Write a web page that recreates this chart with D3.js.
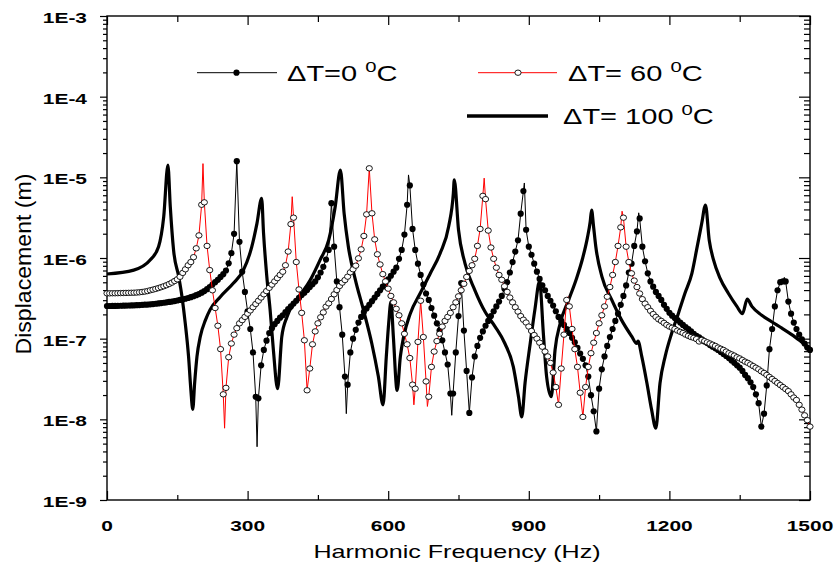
<!DOCTYPE html>
<html>
<head>
<meta charset="utf-8">
<script src="https://cdn.jsdelivr.net/npm/d3@7"></script>
<style>
  body { margin: 0; background: #fff; }
  text { font-family: "Liberation Sans", Arial, sans-serif; }
</style>
</head>
<body>
<script>
var width = 835;
var height = 565;
var plot = { left: 107, right: 810, top: 16, bottom: 500 };

// frequency grid of the sampled curves (Hz), 261 samples from 0 to 1500
var fMax = 1500;
var nPts = 261;
var freq = d3.range(nPts).map(function(i) { return i * fMax / (nPts - 1); });

// log10 of displacement (m), one value per grid frequency
var logDisp0 = [
  -6.595,-6.595,-6.594,-6.594,-6.593,-6.592,-6.591,-6.590,-6.589,-6.588,
  -6.587,-6.585,-6.583,-6.581,-6.579,-6.577,-6.574,-6.571,-6.567,-6.563,
  -6.559,-6.555,-6.550,-6.545,-6.540,-6.534,-6.527,-6.520,-6.513,-6.505,
  -6.496,-6.486,-6.474,-6.461,-6.447,-6.430,-6.410,-6.387,-6.360,-6.330,
  -6.30,-6.27,-6.235,-6.20,-6.155,-6.066,-5.94,-5.70,-4.80,-5.80,
  -6.17,-6.42,-6.66,-6.88,-7.17,-7.72,-7.74,-7.33,-7.14,-7.025,
  -6.93,-6.87,-6.82,-6.78,-6.74,-6.71,-6.67,-6.635,-6.60,-6.565,
  -6.53,-6.495,-6.46,-6.43,-6.397,-6.36,-6.325,-6.29,-6.24,-6.18,
  -6.11,-6.02,-5.90,-5.32,-5.86,-6.29,-6.61,-6.95,-7.47,-7.57,
  -7.17,-7.00,-6.89,-6.80,-6.73,-6.67,-6.625,-6.58,-6.535,-6.49,
  -6.445,-6.40,-6.355,-6.31,-6.265,-6.22,-6.17,-6.12,-6.01,-5.90,
  -5.71,-5.34,-5.10,-5.64,-5.90,-6.07,-6.21,-6.33,-6.44,-6.52,
  -6.62,-6.715,-6.81,-6.90,-7.02,-7.17,-7.32,-7.68,-7.68,-7.17,
  -6.72,-6.31,-6.90,-7.40,-7.92,-7.48,-7.22,-7.09,-6.99,-6.91,
  -6.84,-6.78,-6.72,-6.66,-6.60,-6.54,-6.47,-6.38,-6.30,-6.18,
  -6.05,-5.92,-5.78,-5.45,-5.17,-5.65,-5.86,-5.96,-6.07,-6.17,
  -6.26,-6.34,-6.40,-6.47,-6.53,-6.59,-6.66,-6.73,-6.78,-6.83,
  -6.88,-6.93,-6.99,-7.045,-7.115,-7.185,-7.25,-7.33,-7.47,-7.70,
  -7.90,-8.15,-7.62,-7.38,-7.22,-7.09,-6.98,-6.88,-6.78,-6.69,
  -6.58,-6.47,-6.34,-6.18,-6.07,-5.85,-5.67,-5.51,-5.86,-6.04,
  -6.19,-6.29,-6.355,-6.42,-6.47,-6.52,-6.58,-6.63,-6.68,-6.715,
  -6.745,-6.77,-6.80,-6.83,-6.856,-6.88,-6.91,-6.94,-6.965,-6.985,
  -7.01,-7.035,-7.055,-7.08,-7.10,-7.12,-7.14,-7.165,-7.19,-7.215,
  -7.24,-7.27,-7.30,-7.33,-7.36,-7.40,-7.45,-7.49,-7.54,-7.60,
  -7.69,-7.80,-8.09,-7.93,-7.58,-7.13,-6.88,-6.60,-6.40,-6.30,
  -6.29,-6.29,-6.54,-6.69,-6.80,-6.88,-6.95,-7.01,-7.06,-7.11,
  -7.14
];

var logDisp60 = [
  -6.438,-6.438,-6.437,-6.437,-6.436,-6.435,-6.434,-6.433,-6.432,-6.431,
  -6.430,-6.428,-6.425,-6.421,-6.416,-6.410,-6.400,-6.392,-6.383,-6.373,
  -6.362,-6.350,-6.337,-6.322,-6.305,-6.285,-6.264,-6.233,-6.185,-6.140,
  -6.09,-6.05,-5.99,-5.88,-5.72,-5.34,-5.31,-5.85,-6.15,-6.40,
  -6.62,-6.84,-7.13,-7.69,-7.61,-7.23,-7.06,-6.95,-6.87,-6.81,
  -6.77,-6.73,-6.69,-6.65,-6.61,-6.57,-6.53,-6.49,-6.45,-6.41,
  -6.37,-6.33,-6.29,-6.25,-6.21,-6.17,-6.09,-5.92,-5.58,-5.50,
  -6.05,-6.39,-6.68,-7.02,-7.64,-7.37,-7.07,-6.91,-6.81,-6.735,
  -6.674,-6.603,-6.562,-6.508,-6.45,-6.397,-6.347,-6.306,-6.273,-6.231,
  -6.178,-6.14,-6.095,-6.004,-5.893,-5.727,-5.459,-4.888,-5.446,-5.769,
  -5.954,-6.08,-6.20,-6.29,-6.38,-6.47,-6.55,-6.63,-6.71,-6.81,
  -6.94,-7.07,-7.24,-7.57,-7.62,-7.04,-6.53,-6.98,-7.53,-7.72,
  -7.35,-7.16,-7.03,-6.94,-6.85,-6.78,-6.73,-6.68,-6.61,-6.55,
  -6.475,-6.40,-6.32,-6.235,-6.16,-6.09,-6.01,-5.85,-5.64,-5.23,
  -5.27,-5.66,-5.87,-6.01,-6.12,-6.21,-6.27,-6.35,-6.42,-6.49,
  -6.55,-6.61,-6.665,-6.72,-6.765,-6.80,-6.85,-6.905,-6.955,-7.00,
  -7.05,-7.10,-7.16,-7.22,-7.30,-7.42,-7.60,-7.82,-7.37,-6.95,
  -6.52,-6.60,-6.88,-7.13,-7.35,-7.67,-7.97,-7.60,-7.35,-7.18,
  -7.05,-6.93,-6.81,-6.71,-6.60,-6.48,-6.36,-6.21,-6.05,-5.85,
  -5.62,-5.50,-5.86,-6.05,-6.19,-6.28,-6.36,-6.44,-6.51,-6.565,
  -6.61,-6.655,-6.695,-6.73,-6.76,-6.78,-6.805,-6.83,-6.85,-6.865,
  -6.88,-6.90,-6.915,-6.93,-6.95,-6.965,-6.98,-6.99,-7.005,-7.035,
  -7.015,-7.03,-7.045,-7.06,-7.075,-7.09,-7.11,-7.125,-7.14,-7.16,
  -7.18,-7.195,-7.21,-7.23,-7.245,-7.265,-7.285,-7.30,-7.32,-7.34,
  -7.36,-7.38,-7.405,-7.425,-7.45,-7.475,-7.50,-7.525,-7.55,-7.575,
  -7.60,-7.625,-7.65,-7.69,-7.73,-7.76,-7.82,-7.88,-7.95,-8.01,
  -8.09
];

// sharp resonance / anti-resonance tips that the thin lines reach between markers
var tipFreq0 = [320.2, 510.6, 643.3, 735.6, 890.5, 1134.5, 1445.2];
var tipLog0 = [-8.34, -7.93, -4.97, -7.95, -5.07, -5.44, -6.24];
var tipFreq60 = [204.8, 250.9, 395.2, 654.8, 683.6, 804.8, 983.7, 1099];
var tipLog60 = [-4.83, -8.11, -5.24, -7.82, -7.84, -5.01, -6.48, -5.42];

// dT = 100 curve (no markers)
var freq100 = [0,57,92,110,121,130,135,142,153,160,167,174,179,183,187,192,199,210,220,242,
  270,291,309,320,330,334,341,348,355,364,373,384,405,434,455,473,487,498,506,515,
  530,547,565,579,589,596,601,606,611,619,626,633,647,668,690,711,729,739,741,750,
  764,785,807,828,849,867,878,885,892,903,913,923,931,938,948,956,967,985,1002,1015,
  1025,1031,1034,1038,1043,1056,1077,1098,1120,1130,1133,1141,1152,1162,1171,1180,1191,1205,1219,1233,
  1248,1258,1269,1277,1285,1294,1308,1326,1344,1356,1366,1376,1397,1418,1440,1461,1482,1500];
var logDisp100 = [-6.198,-6.15,-6.025,-5.86,-5.49,-4.847,-5.36,-5.90,-6.23,-6.48,-6.81,-7.22,-7.64,-7.876,-7.55,-7.22,-6.975,-6.77,-6.64,-6.48,
  -6.31,-6.15,-5.86,-5.57,-5.26,-5.69,-6.23,-6.64,-7.14,-7.62,-6.975,-6.73,-6.52,-6.27,-6.02,-5.78,-5.36,-4.909,-5.45,-5.86,
  -6.27,-6.64,-7.06,-7.47,-7.82,-7.22,-6.81,-6.54,-6.975,-7.64,-7.22,-6.975,-6.69,-6.44,-6.19,-5.94,-5.61,-5.20,-5.03,-5.65,
  -6.07,-6.40,-6.67,-6.85,-7.06,-7.35,-7.72,-7.97,-7.55,-7.06,-6.64,-6.29,-6.93,-7.47,-7.72,-7.14,-6.81,-6.52,-6.25,-6.00,
  -5.75,-5.55,-5.405,-5.60,-5.86,-6.23,-6.52,-6.77,-6.975,-7.06,-7.03,-7.22,-7.55,-7.88,-8.11,-7.55,-7.22,-6.93,-6.69,-6.44,
  -6.19,-5.90,-5.57,-5.343,-5.78,-6.02,-6.25,-6.44,-6.60,-6.69,-6.51,-6.60,-6.71,-6.79,-6.87,-6.95,-7.04,-7.12];

var xTicks = [0, 300, 600, 900, 1200, 1500];
var xMinorTicks = [150, 450, 750, 1050, 1350];
var yTicks = [1e-9, 1e-8, 1e-7, 1e-6, 1e-5, 1e-4, 1e-3];
var yTickLabels = ['1E-9', '1E-8', '1E-7', '1E-6', '1E-5', '1E-4', '1E-3'];
var seriesNames = ['\u0394T=0 ', '\u0394T= 60 ', '\u0394T= 100 '];

var stretch = 1.35; // the reference text is drawn wide

var svg = d3.select('body')
  .append('svg')
  .attr('width', width)
  .attr('height', height);

var x = d3.scaleLinear().domain([0, fMax]).range([plot.left, plot.right]);
var y = d3.scaleLog().domain([1e-9, 1e-3]).range([plot.bottom, plot.top]);

function toPoints(fs, logs) {
  return fs.map(function(f, i) { return { f: f, v: Math.pow(10, logs[i]) }; });
}
var pts0 = toPoints(freq, logDisp0);
var pts60 = toPoints(freq, logDisp60);
var pts100 = toPoints(freq100, logDisp100);
var line0 = pts0.concat(toPoints(tipFreq0, tipLog0)).sort(function(a, b) { return a.f - b.f; });
var line60 = pts60.concat(toPoints(tipFreq60, tipLog60)).sort(function(a, b) { return a.f - b.f; });

// log minor ticks from the scale itself
var yMinor = y.ticks().filter(function(v) {
  var l = Math.log10(v);
  return Math.abs(l - Math.round(l)) > 1e-6;
});

function clean(g) {
  g.select('.domain').remove();
  g.selectAll('text').remove();
  g.selectAll('line').attr('stroke', '#000').attr('stroke-width', 1.2);
}

// left: outward ticks
svg.append('g').attr('transform', 'translate(' + plot.left + ',0)')
  .call(d3.axisLeft(y).tickValues(yTicks).tickSize(7)).call(clean);
svg.append('g').attr('transform', 'translate(' + plot.left + ',0)')
  .call(d3.axisLeft(y).tickValues(yMinor).tickSize(4)).call(clean);
// right: inward ticks
svg.append('g').attr('transform', 'translate(' + plot.right + ',0)')
  .call(d3.axisRight(y).tickValues(yTicks).tickSize(-11)).call(clean);
svg.append('g').attr('transform', 'translate(' + plot.right + ',0)')
  .call(d3.axisRight(y).tickValues(yMinor).tickSize(-6)).call(clean);
// bottom and top: inward ticks
svg.append('g').attr('transform', 'translate(0,' + plot.bottom + ')')
  .call(d3.axisBottom(x).tickValues(xTicks).tickSize(-9)).call(clean);
svg.append('g').attr('transform', 'translate(0,' + plot.bottom + ')')
  .call(d3.axisBottom(x).tickValues(xMinorTicks).tickSize(-5)).call(clean);
svg.append('g').attr('transform', 'translate(0,' + plot.top + ')')
  .call(d3.axisTop(x).tickValues(xTicks).tickSize(-9)).call(clean);
svg.append('g').attr('transform', 'translate(0,' + plot.top + ')')
  .call(d3.axisTop(x).tickValues(xMinorTicks).tickSize(-6)).call(clean);

// frame
svg.append('rect')
  .attr('x', plot.left).attr('y', plot.top)
  .attr('width', plot.right - plot.left).attr('height', plot.bottom - plot.top)
  .attr('fill', 'none').attr('stroke', '#000').attr('stroke-width', 1.4);

// tick labels
svg.selectAll('.ylab')
  .data(yTicks)
  .enter()
  .append('text')
  .attr('class', 'ylab')
  .attr('transform', function(d) { return 'translate(87,' + (y(d) + 7) + ') scale(' + stretch + ',1)'; })
  .attr('text-anchor', 'end')
  .attr('font-size', 15.5)
  .attr('font-weight', 'bold')
  .text(function(d, i) { return yTickLabels[i]; });

svg.selectAll('.xlab')
  .data(xTicks)
  .enter()
  .append('text')
  .attr('class', 'xlab')
  .attr('transform', function(d) { return 'translate(' + x(d) + ',530.5) scale(' + stretch + ',1)'; })
  .attr('text-anchor', 'middle')
  .attr('font-size', 15.5)
  .attr('font-weight', 'bold')
  .text(function(d) { return d; });

// axis titles
svg.append('text')
  .attr('transform', 'translate(457,558) scale(' + stretch + ',1)')
  .attr('text-anchor', 'middle')
  .attr('font-size', 18.6)
  .text('Harmonic Frequency (Hz)');

svg.append('text')
  .attr('transform', 'translate(31,264) rotate(-90)')
  .attr('text-anchor', 'middle')
  .attr('font-size', 22)
  .attr('textLength', 181)
  .attr('lengthAdjust', 'spacingAndGlyphs')
  .text('Displacement (m)');

// curves
var line = d3.line()
  .x(function(d) { return x(d.f); })
  .y(function(d) { return y(d.v); });

svg.append('path')
  .datum(pts100)
  .attr('d', line.curve(d3.curveMonotoneX))
  .attr('fill', 'none')
  .attr('stroke', '#000')
  .attr('stroke-width', 3.2)
  .attr('stroke-linejoin', 'round');

line.curve(d3.curveLinear);

svg.append('path')
  .datum(line0)
  .attr('d', line)
  .attr('fill', 'none')
  .attr('stroke', '#000')
  .attr('stroke-width', 1);

svg.selectAll('.dot0')
  .data(pts0)
  .enter()
  .append('circle')
  .attr('class', 'dot0')
  .attr('cx', function(d) { return x(d.f); })
  .attr('cy', function(d) { return y(d.v); })
  .attr('r', 3.1)
  .attr('fill', '#000');

svg.append('path')
  .datum(line60)
  .attr('d', line)
  .attr('fill', 'none')
  .attr('stroke', '#ff0000')
  .attr('stroke-width', 1);

svg.selectAll('.dot60')
  .data(pts60)
  .enter()
  .append('ellipse')
  .attr('class', 'dot60')
  .attr('cx', function(d) { return x(d.f); })
  .attr('cy', function(d) { return y(d.v); })
  .attr('rx', 3.1)
  .attr('ry', 2.7)
  .attr('fill', '#fff')
  .attr('stroke', '#000')
  .attr('stroke-width', 0.9);

// legend
var legend = svg.append('g');
legend.append('line').attr('x1', 197).attr('x2', 277).attr('y1', 72.7).attr('y2', 72.7)
  .attr('stroke', '#000').attr('stroke-width', 1);
legend.append('circle').attr('cx', 236.5).attr('cy', 72.7).attr('r', 3.1).attr('fill', '#000');

legend.append('line').attr('x1', 478).attr('x2', 557).attr('y1', 72.7).attr('y2', 72.7)
  .attr('stroke', '#ff0000').attr('stroke-width', 1);
legend.append('ellipse').attr('cx', 518).attr('cy', 72.7).attr('rx', 3.1).attr('ry', 2.7)
  .attr('fill', '#fff').attr('stroke', '#000').attr('stroke-width', 0.9);

legend.append('line').attr('x1', 467).attr('x2', 548).attr('y1', 116).attr('y2', 116)
  .attr('stroke', '#000').attr('stroke-width', 3.3);

var legendPos = [[287, 80.7], [568, 80.7], [563, 124.3]];
seriesNames.forEach(function(name, i) {
  var t = legend.append('text')
    .attr('transform', 'translate(' + legendPos[i][0] + ',' + legendPos[i][1] + ') scale(' + stretch + ',1)')
    .attr('font-size', 21.5);
  t.append('tspan').text(name);
  t.append('tspan').attr('font-size', 15).attr('dy', -9).text('0');
  t.append('tspan').attr('dy', 9).text('C');
});
</script>
</body>
</html>
